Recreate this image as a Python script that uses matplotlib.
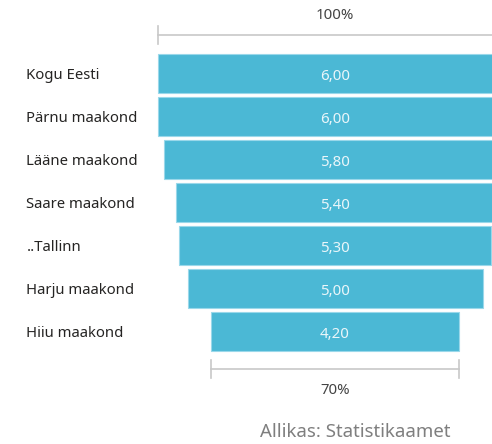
import matplotlib
matplotlib.use('Agg')
import matplotlib.pyplot as plt

plt.rcParams['font.family'] = ['Noto Sans', 'DejaVu Sans']

# data
categories = ['Kogu Eesti', 'Pärnu maakond', 'Lääne maakond', 'Saare maakond',
              '..Tallinn', 'Harju maakond', 'Hiiu maakond']
values = [6.00, 6.00, 5.80, 5.40, 5.30, 5.00, 4.20]
source = 'Allikas: Statistikaamet'

bar_color = '#4BB8D5'
grey = '#c8c8c8'

fig = plt.figure(figsize=(4.92, 4.44), dpi=100)
ax = fig.add_axes([0, 0, 1, 1])

# funnel bars centered on 0
ypos = list(range(len(values)))
lefts = [-v / 2 for v in values]
ax.barh(ypos, values, left=lefts, height=0.895, color=bar_color,
        edgecolor='#9ad8ea', linewidth=0.8)

for y, v in zip(ypos, values):
    ax.text(0, y + 0.08, f'{v:.2f}'.replace('.', ','), ha='center', va='center',
            color='#eaf6fa', fontsize=10.8)

# category labels on the left
for y, c in zip(ypos, categories):
    ax.text(-5.23, y + 0.05, c, ha='left', va='center', color='#252423', fontsize=10.7)

# top bracket (first value = 100%)
vmax = values[0]
vmin = values[-1]
ytop = -0.895
ax.plot([-vmax / 2, vmax / 2 + 2], [ytop, ytop], color=grey, lw=1.2)
ax.plot([-vmax / 2, -vmax / 2], [ytop - 0.22, ytop + 0.22], color=grey, lw=1.2)
ax.text(0, -1.34, '100%', ha='center', va='center', color='#444444', fontsize=10.8)

# bottom bracket (last value relative to first)
ybot = 6.872
ax.plot([-vmin / 2, vmin / 2], [ybot, ybot], color=grey, lw=1.2)
for xe in (-vmin / 2, vmin / 2):
    ax.plot([xe, xe], [ybot - 0.22, ybot + 0.22], color=grey, lw=1.2)
ax.text(0, 7.38, f'{round(vmin / vmax * 100)}%', ha='center', va='center',
        color='#444444', fontsize=10.8)

ax.set_xlim(-335 / 59, (492 - 335) / 59)
ax.set_ylim(8.616, -1.709)
ax.axis('off')

fig.text(0.7226, 0.026, source, ha='center', va='center', color='#7f7f7f', fontsize=13.4)

fig.savefig('out.png', dpi=100)
